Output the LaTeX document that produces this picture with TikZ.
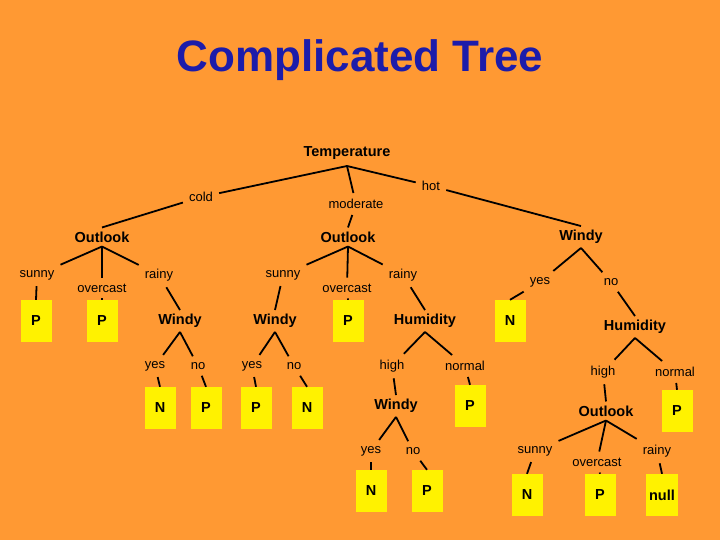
\documentclass[tikz,border=0pt]{standalone}
\usepackage{fontspec}
\setmainfont{Liberation Sans}
\begin{document}
\begin{tikzpicture}[x=1pt,y=-1pt,
  attr/.style={font=\fontsize{14.5}{16}\selectfont\bfseries, inner sep=4pt},
  lbl/.style={font=\fontsize{13}{14}\selectfont, inner sep=6pt},
  leaf/.style={fill=yellow, minimum width=31pt, minimum height=42pt, inner sep=3pt, font=\fontsize{14.5}{16}\selectfont\bfseries},
  edge/.style={line width=1.8pt}]
\fill[fill={rgb,255:red,255;green,153;blue,51}] (0,0) rectangle (720,540);
\useasboundingbox (0,0) rectangle (720,540);
\node[font=\fontsize{44}{48}\selectfont\bfseries, text={rgb,255:red,28;green,28;blue,170}] (title) at (360,60) {Complicated Tree};

\node[attr] (T) at (347,153) {Temperature};
\node[lbl] (lcold) at (201,197) {cold};
\node[lbl] (lmod) at (356,204) {moderate};
\node[lbl] (lhot) at (431,186) {hot};
\node[attr] (O1) at (102,237) {Outlook};
\node[attr] (O2) at (348,237) {Outlook};
\node[attr] (W0) at (581,237) {Windy};
\coordinate (Tb) at (347,166);
\draw[edge] (Tb) -- (lcold) -- (O1.north);
\draw[edge] (Tb) -- (lmod) -- (O2.north);
\draw[edge] (Tb) -- (lhot) -- (W0.north);

% Outlook1
\node[lbl] (a1) at (37,275) {sunny};
\node[lbl] (a2) at (102,288) {overcast};
\node[lbl] (a3) at (159,275) {rainy};
\node[leaf] (P1) at (36,321) {P};
\node[leaf] (P2) at (102,321) {P};
\node[attr] (W1) at (180,321) {Windy};
\draw[edge] (O1.south) -- (a1) -- (P1.north);
\draw[edge] (O1.south) -- (a2) -- (P2.north);
\draw[edge] (O1.south) -- (a3) -- (W1.north);

% Outlook2
\node[lbl] (b1) at (283,275) {sunny};
\node[lbl] (b2) at (347,288) {overcast};
\node[lbl] (b3) at (403,275) {rainy};
\node[attr] (W2) at (275,321) {Windy};
\node[leaf] (P3) at (348,321) {P};
\node[attr] (H1) at (425,321) {Humidity};
\draw[edge] (O2.south) -- (b1) -- (W2.north);
\draw[edge] (O2.south) -- (b2) -- (P3.north);
\draw[edge] (O2.south) -- (b3) -- (H1.north);

% Windy top right
\node[lbl] (c1) at (540,282) {yes};
\node[lbl] (c2) at (611,282) {no};
\node[leaf] (N1) at (510,321) {N};
\node[attr] (H2) at (635,327) {Humidity};
\draw[edge] (W0.south) -- (c1) -- (N1.north);
\draw[edge] (W0.south) -- (c2) -- (H2.north);

% W1
\node[lbl] (d1) at (155,366) {yes};
\node[lbl] (d2) at (198,366) {no};
\node[leaf] (N2) at (160,408) {N};
\node[leaf] (P4) at (206,408) {P};
\draw[edge] (W1.south) -- (d1) -- (N2.north);
\draw[edge] (W1.south) -- (d2) -- (P4.north);

% W2
\node[lbl] (e1) at (252,366) {yes};
\node[lbl] (e2) at (294,366) {no};
\node[leaf] (P5) at (256,408) {P};
\node[leaf] (N3) at (307,408) {N};
\draw[edge] (W2.south) -- (e1) -- (P5.north);
\draw[edge] (W2.south) -- (e2) -- (N3.north);

% H1
\node[lbl] (f1) at (392,366) {high};
\node[lbl] (f2) at (465,366) {normal};
\node[attr] (W3) at (396,406) {Windy};
\node[leaf] (P6) at (470,406) {P};
\draw[edge] (H1.south) -- (f1) -- (W3.north);
\draw[edge] (H1.south) -- (f2) -- (P6.north);

% W3
\node[lbl] (g1) at (371,451) {yes};
\node[lbl] (g2) at (413,451) {no};
\node[leaf] (N4) at (371,491) {N};
\node[leaf] (P7) at (427,491) {P};
\draw[edge] (W3.south) -- (g1) -- (N4.north);
\draw[edge] (W3.south) -- (g2) -- (P7.north);

% H2
\node[lbl] (h1) at (603,372) {high};
\node[lbl] (h2) at (675,372) {normal};
\node[attr] (O3) at (606,411) {Outlook};
\node[leaf] (P8) at (677,411) {P};
\draw[edge] (H2.south) -- (h1) -- (O3.north);
\draw[edge] (H2.south) -- (h2) -- (P8.north);

% O3
\node[lbl] (k1) at (535,451) {sunny};
\node[lbl] (k2) at (597,462) {overcast};
\node[lbl] (k3) at (657,451) {rainy};
\node[leaf] (N5) at (527,495) {N};
\node[leaf] (P9) at (600,495) {P};
\node[leaf] (nl) at (662,495) {null};
\draw[edge] (O3.south) -- (k1) -- (N5.north);
\draw[edge] (O3.south) -- (k2) -- (P9.north);
\draw[edge] (O3.south) -- (k3) -- (nl.north);
\end{tikzpicture}
\end{document}
